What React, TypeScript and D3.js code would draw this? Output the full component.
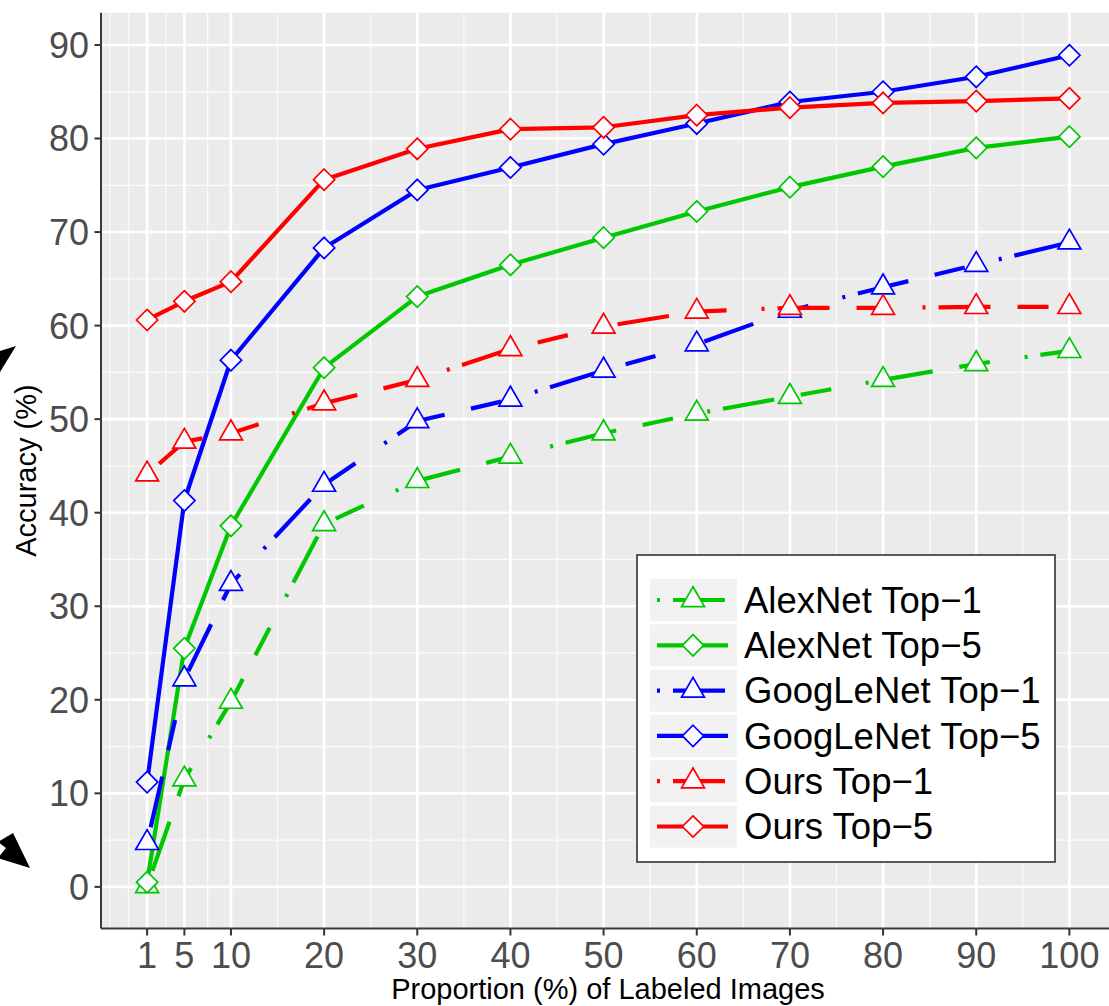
import React from "react";
import * as d3 from "d3";

// ---------- data ----------
const proportions = [1, 5, 10, 20, 30, 40, 50, 60, 70, 80, 90, 100];
const alexTop1 = [0.1, 11.5, 19.8, 38.8, 43.4, 46.0, 48.5, 50.6, 52.4, 54.2, 55.9, 57.3];
const alexTop5 = [0.5, 25.5, 38.6, 55.5, 63.1, 66.5, 69.4, 72.2, 74.8, 77.0, 79.0, 80.2];
const googTop1 = [4.7, 22.2, 32.4, 43.0, 49.8, 52.1, 55.2, 58.0, 61.6, 64.1, 66.5, 68.9];
const googTop5 = [11.2, 41.3, 56.3, 68.3, 74.5, 76.9, 79.4, 81.6, 83.9, 85.0, 86.6, 88.9];
const oursTop1 = [44.1, 47.6, 48.5, 51.7, 54.2, 57.5, 59.9, 61.5, 61.9, 61.9, 62.0, 62.0];
const oursTop5 = [60.6, 62.6, 64.7, 75.6, 78.9, 81.0, 81.2, 82.5, 83.3, 83.8, 84.0, 84.3];

const seriesNames = [
  "AlexNet Top\u22121",
  "AlexNet Top\u22125",
  "GoogLeNet Top\u22121",
  "GoogLeNet Top\u22125",
  "Ours Top\u22121",
  "Ours Top\u22125",
];
const seriesValues = [alexTop1, alexTop5, googTop1, googTop5, oursTop1, oursTop5];
const seriesColors = ["#00c800", "#00c800", "#0000ff", "#0000ff", "#ff0000", "#ff0000"];
const seriesShapes = ["triangle", "diamond", "triangle", "diamond", "triangle", "diamond"];
const seriesDashed = [true, false, true, false, true, false];

const xTicks = [1, 5, 10, 20, 30, 40, 50, 60, 70, 80, 90, 100];
const xMinor = [-3, -1, 3, 7.5, 15, 25, 35, 45, 55, 65, 75, 85, 95];
const yTicks = [0, 10, 20, 30, 40, 50, 60, 70, 80, 90];
const yMinor = [5, 15, 25, 35, 45, 55, 65, 75, 85];

// ---------- layout ----------
const W = 1109;
const H = 1006;
const panel = { left: 101, right: 1115.5, top: 12.7, bottom: 928.5 };
const FONT = "'Liberation Sans', Arial, Helvetica, sans-serif";
const DASH = "3 13 52 27 31 35";
const LINE_W = 4.2;
const U = 8.5; // marker unit

const x = d3.scaleLinear().domain([1 - 4.95, 100 + 4.95]).range([panel.left, panel.right]);
const y = d3.scaleLinear().domain([-4.45, 93.45]).range([panel.bottom, panel.top]);

function markerPath(shape: string, cx: number, cy: number) {
  if (shape === "triangle") {
    const r = 1.555 * U;
    const xc = 1.347 * U;
    const yc = 0.778 * U;
    return `M${cx},${cy - r}L${cx + xc},${cy + yc}L${cx - xc},${cy + yc}Z`;
  }
  const d = 1.2533 * U;
  return `M${cx},${cy - d}L${cx + d},${cy}L${cx},${cy + d}L${cx - d},${cy}Z`;
}

export default function App() {
  const line = d3
    .line<number>()
    .x((_, i) => x(proportions[i]))
    .y((v) => y(v));

  const legendBox = { x: 637, y: 555, w: 418, h: 307 };
  const rowCenter0 = 600;
  const rowStep = 45.3;
  const keyX0 = 650;
  const keyW = 87;
  const keyH = 42;

  return (
    <svg
      width={W}
      height={H}
      style={{ position: "absolute", left: 0, top: 0, background: "#ffffff" }}
      fontFamily={FONT}
    >
      <rect x={0} y={0} width={W} height={H} fill="#ffffff" />
      <defs>
        <clipPath id="panelClip">
          <rect x={panel.left} y={panel.top} width={panel.right - panel.left} height={panel.bottom - panel.top} />
        </clipPath>
      </defs>
      {/* panel */}
      <rect
        x={panel.left}
        y={panel.top}
        width={panel.right - panel.left}
        height={panel.bottom - panel.top}
        fill="#ebebeb"
      />
      <g clipPath="url(#panelClip)">
        {yMinor.map((v) => (
          <line key={"ym" + v} x1={panel.left} x2={panel.right} y1={y(v)} y2={y(v)} stroke="#fafafa" strokeWidth={1.3} />
        ))}
        {xMinor.map((v) => (
          <line key={"xm" + v} x1={x(v)} x2={x(v)} y1={panel.top} y2={panel.bottom} stroke="#fafafa" strokeWidth={1.3} />
        ))}
        {yTicks.map((v) => (
          <line key={"yM" + v} x1={panel.left} x2={panel.right} y1={y(v)} y2={y(v)} stroke="#ffffff" strokeWidth={2.6} />
        ))}
        {xTicks.map((v) => (
          <line key={"xM" + v} x1={x(v)} x2={x(v)} y1={panel.top} y2={panel.bottom} stroke="#ffffff" strokeWidth={2.6} />
        ))}

        {/* lines */}
        {seriesValues.map((vals, si) => (
          <path
            key={"l" + si}
            d={line(vals) || ""}
            fill="none"
            stroke={seriesColors[si]}
            strokeWidth={LINE_W}
            strokeDasharray={seriesDashed[si] ? DASH : undefined}
            strokeLinejoin="round"
          />
        ))}
        {/* points */}
        {seriesValues.map((vals, si) => (
          <g key={"p" + si}>
            {vals.map((v, i) => (
              <path
                key={i}
                d={markerPath(seriesShapes[si], x(proportions[i]), y(v))}
                fill="#fbfbff"
                stroke={seriesColors[si]}
                strokeWidth={1.7}
                strokeLinejoin="miter"
              />
            ))}
          </g>
        ))}
      </g>

      {/* axes lines */}
      <line x1={panel.left} x2={panel.left} y1={panel.top} y2={panel.bottom} stroke="#3a3a3a" strokeWidth={2} />
      <line x1={panel.left} x2={W} y1={panel.bottom} y2={panel.bottom} stroke="#3a3a3a" strokeWidth={2} />

      {/* y ticks */}
      {yTicks.map((v) => (
        <g key={"yt" + v}>
          <line x1={panel.left - 6.5} x2={panel.left} y1={y(v)} y2={y(v)} stroke="#333333" strokeWidth={2} />
          <text x={89} y={y(v)} dy="0.36em" textAnchor="end" fontSize={36} fill="#4d4d4d">
            {v}
          </text>
        </g>
      ))}
      {/* x ticks */}
      {xTicks.map((v) => (
        <g key={"xt" + v}>
          <line x1={x(v)} x2={x(v)} y1={panel.bottom} y2={panel.bottom + 7} stroke="#333333" strokeWidth={2} />
          <text x={x(v)} y={968} textAnchor="middle" fontSize={36} fill="#4d4d4d">
            {v}
          </text>
        </g>
      ))}

      {/* axis titles */}
      <text x={608} y={999} textAnchor="middle" fontSize={29} fill="#000000">
        Proportion (%) of Labeled Images
      </text>
      <text
        transform={`translate(36, ${(panel.top + panel.bottom) / 2}) rotate(-90)`}
        textAnchor="middle"
        fontSize={29}
        fill="#000000"
      >
        Accuracy (%)
      </text>

      {/* legend */}
      <rect
        x={legendBox.x}
        y={legendBox.y}
        width={legendBox.w}
        height={legendBox.h}
        fill="#ffffff"
        stroke="#333333"
        strokeWidth={1.6}
      />
      {seriesNames.map((name, si) => {
        const cy = rowCenter0 + si * rowStep;
        return (
          <g key={"lg" + si}>
            <rect x={keyX0} y={cy - keyH / 2} width={keyW} height={keyH} fill="#f2f2f2" />
            <line
              x1={657}
              x2={728}
              y1={cy}
              y2={cy}
              stroke={seriesColors[si]}
              strokeWidth={LINE_W}
              strokeDasharray={seriesDashed[si] ? DASH : undefined}
            />
            <path
              d={markerPath(seriesShapes[si], 693, cy)}
              fill="#fbfbff"
              stroke={seriesColors[si]}
              strokeWidth={1.7}
            />
            <text x={744} y={cy + 12.8} fontSize={36.5} fill="#000000">
              {name}
            </text>
          </g>
        );
      })}

      {/* decorative arrowheads at the left edge */}
      <path d="M16,346L0,351L0,372Z" fill="#000000" />
      <path d="M13,833L30,868L-2,858L6,848L-2,842Z" fill="#000000" />
    </svg>
  );
}
